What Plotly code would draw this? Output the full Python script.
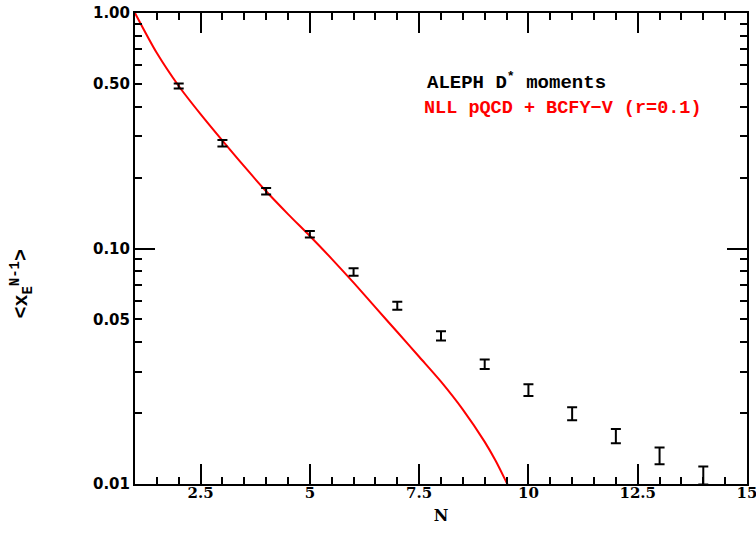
import plotly.graph_objects as go

# Data: ALEPH D* moments
data_n = [2, 3, 4, 5, 6, 7, 8, 9, 10, 11, 12, 13, 14]
data_y = [0.490, 0.280, 0.175, 0.115, 0.0796, 0.0572, 0.0426, 0.0323, 0.0251, 0.0199, 0.0160, 0.0132, 0.0109]
data_err = [0.012, 0.009, 0.0056, 0.0037, 0.0029, 0.0022, 0.0019, 0.0015, 0.00143, 0.00127, 0.00112, 0.00108, 0.00096]

# Theory curve: NLL pQCD + BCFY-V (r=0.1)
curve_n = [1.0, 1.5, 2.0, 2.5, 3.0, 3.5, 4.0, 4.5, 5.0, 5.5, 6.0, 6.5, 7.0, 7.5, 8.0, 8.5, 9.0, 9.25, 9.5, 9.53]
curve_y = [1.0, 0.676, 0.490, 0.372, 0.287, 0.223, 0.175, 0.140, 0.113, 0.0904, 0.0716, 0.0562, 0.0442,
           0.0347, 0.0272, 0.0207, 0.0151, 0.01255, 0.01015, 0.0099]

y_tickvals = [0.01, 0.05, 0.1, 0.5, 1.0]
y_ticktext = ["0.01", "0.05", "0.10", "0.50", "1.00"]
y_decades = [0.01, 0.1, 1.0]
y_minor = [0.02, 0.03, 0.04, 0.05, 0.06, 0.07, 0.08, 0.09, 0.2, 0.3, 0.4, 0.5, 0.6, 0.7, 0.8, 0.9]
x_tickvals = [2.5, 5, 7.5, 10, 12.5, 15]
x_ticktext = ["2.5", "5", "7.5", "10", "12.5", "15"]

fig = go.Figure()

fig.add_trace(go.Scatter(
    x=curve_n, y=curve_y, mode="lines",
    line=dict(color="#ff0000", width=2, shape="spline", smoothing=0.8),
    showlegend=False,
))

fig.add_trace(go.Scatter(
    x=data_n, y=data_y, mode="markers",
    marker=dict(size=1, color="rgba(0,0,0,0)"),
    error_y=dict(type="data", array=data_err, visible=True, color="black", thickness=2, width=5),
    showlegend=False,
))

# invisible traces to activate the overlay axes (long ticks + labels)
fig.add_trace(go.Scatter(x=[None], y=[None], xaxis="x2", yaxis="y2", showlegend=False))

fig.update_layout(
    width=756, height=534,
    margin=dict(l=135, r=9, t=13, b=50),
    paper_bgcolor="white", plot_bgcolor="white",
    xaxis=dict(
        range=[1, 15], showgrid=False, zeroline=False, automargin=False,
        showline=True, linecolor="black", linewidth=2, mirror="allticks",
        tickmode="linear", tick0=0, dtick=0.5,
        ticks="inside", ticklen=7, tickwidth=2, tickcolor="black",
        showticklabels=False,
    ),
    xaxis2=dict(
        range=[1, 15], overlaying="x", side="bottom", anchor="y", automargin=False,
        showgrid=False, zeroline=False, showline=False, mirror="allticks",
        ticks="inside", ticklen=20, tickwidth=2, tickcolor="black",
        tickvals=x_tickvals, ticktext=x_ticktext, ticklabelstandoff=-2,
        ticklabeloverflow="allow",
        tickfont=dict(family="DejaVu Serif", size=15, color="black", weight="bold"),
        title=dict(text="N", font=dict(family="DejaVu Serif", size=16, color="black", weight="bold"), standoff=8),
    ),
    yaxis=dict(
        type="log", range=[-2, 0], showgrid=False, zeroline=False, automargin=False,
        showline=True, linecolor="black", linewidth=2, mirror="allticks",
        ticks="inside", ticklen=7, tickwidth=2, tickcolor="black",
        tickvals=y_tickvals, ticktext=y_ticktext, ticklabeloverflow="allow",
        tickfont=dict(family="DejaVu Sans", size=15, color="black", weight="bold"),
        minor=dict(tickvals=y_minor, ticks="inside", ticklen=7, tickwidth=2, tickcolor="black", showgrid=False),
    ),
    yaxis2=dict(
        type="log", range=[-2, 0], overlaying="y", side="left", anchor="x", automargin=False,
        showgrid=False, zeroline=False, showline=False, mirror="allticks",
        ticks="inside", ticklen=20, tickwidth=2, tickcolor="black",
        tickvals=y_decades, showticklabels=False,
    ),
    annotations=[
        dict(text="&lt;x<sub>E</sub><sup>N-1</sup>&gt;", xref="paper", yref="paper",
             x=-0.185, y=0.425, textangle=-90, showarrow=False,
             xanchor="center", yanchor="middle",
             font=dict(family="Liberation Mono", size=20, color="black", weight="bold")),
        dict(text="ALEPH D<sup>*</sup> moments", xref="paper", yref="paper",
             x=0.474, y=0.854, showarrow=False, xanchor="left", yanchor="middle",
             font=dict(family="Liberation Mono", size=19, color="black", weight="bold")),
        dict(text="NLL pQCD + BCFY\u2212V (r=0.1)", xref="paper", yref="paper",
             x=0.469, y=0.798, showarrow=False, xanchor="left", yanchor="middle",
             font=dict(family="Liberation Mono", size=18.5, color="#ff0000", weight="bold")),
    ],
)

fig.write_html("out.html")
